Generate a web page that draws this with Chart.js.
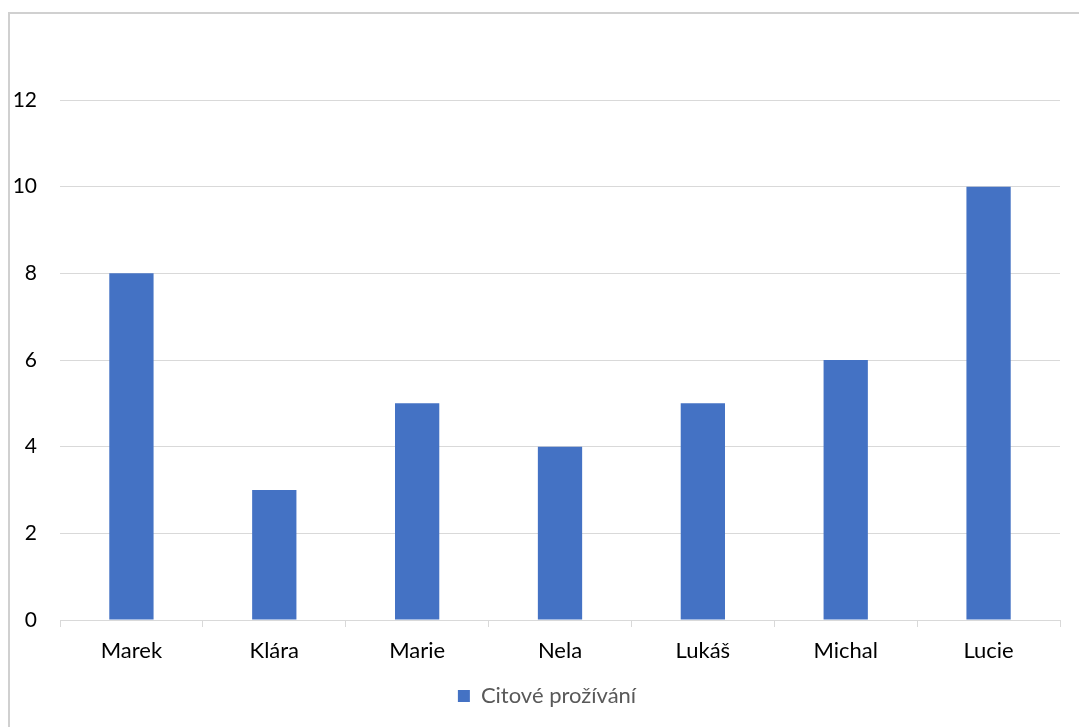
<!DOCTYPE html>
<html>
<head>
<meta charset="utf-8">
<script src="https://cdn.jsdelivr.net/npm/chart.js@4"></script>
<style>
  html, body { margin: 0; padding: 0; background: #fff; overflow: hidden; width: 1079px; height: 727px; }
  #frame { position: absolute; left: 8px; top: 12px; width: 1200px; height: 900px; border: 2px solid #D0D0D0; box-sizing: border-box; }
  #wrap { position: absolute; left: 0; top: 0; width: 1079px; height: 727px; }
</style>
</head>
<body>
<div id="frame"></div>
<div id="wrap"><canvas id="c"></canvas></div>
<script>
const categories = ["Marek", "Klára", "Marie", "Nela", "Lukáš", "Michal", "Lucie"];
const seriesName = "Citové prožívání";
const values = [8, 3, 5, 4, 5, 6, 10];
const yTicks = [0, 2, 4, 6, 8, 10, 12];

const FONT = "Lato, 'Noto Sans', sans-serif";

const shiftLegend = {
  id: 'shiftLegend',
  afterLayout(chart) {
    if (chart.legend) { chart.legend.left += 17; chart.legend.right += 17; }
  }
};

new Chart(document.getElementById('c'), {
  type: 'bar',
  data: {
    labels: categories,
    datasets: [{
      label: seriesName,
      data: values,
      backgroundColor: '#4472C4',
      borderWidth: 0,
      categoryPercentage: 1.0,
      barPercentage: 0.31
    }]
  },
  plugins: [shiftLegend],
  options: {
    responsive: true,
    maintainAspectRatio: false,
    animation: false,
    devicePixelRatio: 1,
    layout: { padding: { left: 0, right: 19, top: 100, bottom: 10 } },
    plugins: {
      tooltip: { enabled: false },
      legend: {
        position: 'bottom',
        labels: {
          boxWidth: 12, boxHeight: 12, padding: 6,
          color: '#595959',
          font: { family: FONT, size: 22 }
        }
      }
    },
    scales: {
      x: {
        grid: { display: true, drawOnChartArea: false, drawTicks: true, tickLength: 7, color: '#D9D9D9', lineWidth: 1 },
        border: { display: true, color: '#D9D9D9', width: 1 },
        ticks: { color: '#000', padding: 11, font: { family: FONT, size: 22 } },
        afterFit: (s) => { s.height = 59; }
      },
      y: {
        min: 0, max: 12,
        afterBuildTicks: (s) => { s.ticks = yTicks.map(v => ({ value: v })); },
        grid: { color: '#D9D9D9', lineWidth: 1, drawTicks: false },
        border: { display: false },
        ticks: { color: '#000', padding: 23, font: { family: FONT, size: 21 } },
        afterFit: (s) => { s.width = 60; }
      }
    }
  }
});
</script>
</body>
</html>
